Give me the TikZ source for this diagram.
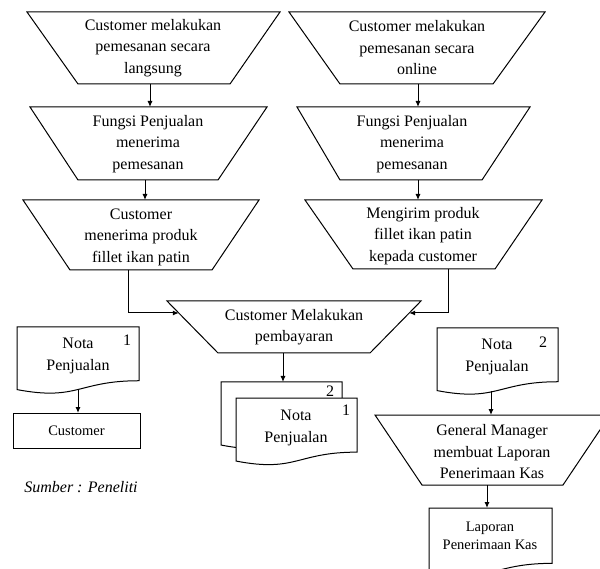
\documentclass[tikz,border=0pt]{standalone}
\usepackage{fontspec}
\setmainfont{Liberation Serif}
\usetikzlibrary{arrows.meta}
\newcommand\docpath[4]{% left, top, right, height
  (#1,#2) -- (#3,#2) -- (#3,{#2+0.802*#4})
  .. controls ({(#1+#3)/2},{#2+0.802*#4}) and ({(#1+#3)/2},{#2+1.107*#4}) ..
  (#1,{#2+0.934*#4}) -- cycle}
\begin{document}
\begin{tikzpicture}[x=1pt,y=-1pt,
  shp/.style={draw=black, line width=1pt, fill=white, line join=miter},
  lbl/.style={align=center, inner sep=0pt, font=\fontsize{16}{21.5}\selectfont},
  slbl/.style={align=center, inner sep=0pt, font=\fontsize{14.5}{18.5}\selectfont},
  num/.style={inner sep=0pt, font=\fontsize{16}{18}\selectfont},
  arr/.style={draw=black, line width=1pt, -{Latex[length=6pt,width=5pt]}},
  conn/.style={draw=black, line width=1pt}]
\useasboundingbox (0,0) rectangle (600,569);
\clip (0,0) rectangle (600,569);

% ---- left column trapezoids
\path[shp] (27,12) -- (280,12) -- (230,84) -- (78,84) -- cycle;
\node[lbl] (b1) at (153,48) {Customer melakukan\\pemesanan secara\\langsung};
\path[shp] (30,107) -- (267,107) -- (218,180) -- (78,180) -- cycle;
\node[lbl] (b2) at (148,144) {Fungsi Penjualan\\menerima\\pemesanan};
\path[shp] (23,200) -- (259,200) -- (212,270) -- (70,270) -- cycle;
\node[lbl] (b3) at (141,237) {Customer\\menerima produk\\fillet ikan patin};

% ---- right column trapezoids
\path[shp] (289,12) -- (545,12) -- (493,84) -- (340,84) -- cycle;
\node[lbl] (r1) at (417,48) {Customer melakukan\\pemesanan secara\\online};
\path[shp] (297,107) -- (530,107) -- (482,180) -- (340,180) -- cycle;
\node[lbl] (r2) at (412,144) {Fungsi Penjualan\\menerima\\pemesanan};
\path[shp] (305,200) -- (542,200) -- (495,269) -- (353,269) -- cycle;
\node[lbl] (r3) at (423,236) {Mengirim produk\\fillet ikan patin\\kepada customer};

% ---- payment
\path[shp] (167,301) -- (421,301) -- (370,353) -- (218,353) -- cycle;
\node[lbl] (pay) at (294,327) {Customer Melakukan\\pembayaran};

% ---- document stack (middle)
\path[shp] \docpath{221}{382}{342}{67.5};
\node[num] (n2m) at (330,391) {2};
\path[shp] \docpath{236}{398}{357}{67.5};
\node[num] (n1m) at (346,410) {1};
\node[lbl] (notam) at (296,428) {Nota\\Penjualan};

% ---- left document and customer
\path[shp] \docpath{17}{327}{139}{67};
\node[num] (n1l) at (127,340) {1};
\node[lbl] (notal) at (78,356) {Nota\\Penjualan};
\node[draw, line width=1pt, minimum width=127pt, minimum height=35pt, inner sep=0pt,
      font=\fontsize{14.5}{16}\selectfont] (cust) at (76.5,430.5) {Customer};
\node[lbl, font=\fontsize{16}{18}\selectfont\itshape] (src) at (81,487) {Sumber : Peneliti};

% ---- right document, GM, report
\path[shp] \docpath{437}{328}{558}{67};
\node[num] (n2r) at (543,342) {2};
\node[lbl] (notar) at (497,357) {Nota\\Penjualan};
\path[shp] (375,415) -- (610,415) -- (563,485) -- (422,485) -- cycle;
\node[lbl] (gm) at (492,452) {General Manager\\membuat Laporan\\Penerimaan Kas};
\path[shp] \docpath{429}{508}{552}{69};
\node[slbl] (lap) at (490,536) {Laporan\\Penerimaan Kas};

% ---- connector end points
\coordinate (b1s) at (150,84);  \coordinate (b2n) at (150,107);
\coordinate (b2s) at (145,180); \coordinate (b3n) at (145,200);
\coordinate (r1s) at (418,84);  \coordinate (r2n) at (418,107);
\coordinate (r2s) at (418,180); \coordinate (r3n) at (418,200);
\coordinate (b3s) at (128,270); \coordinate (payw) at (178.8,313);
\coordinate (r3s) at (448,269); \coordinate (paye) at (409.2,313);
\coordinate (pays) at (283,353); \coordinate (stackn) at (283,382);
\coordinate (notals) at (78,390); \coordinate (custn) at (78,413);
\coordinate (notars) at (491,391); \coordinate (gmn) at (491,415);
\coordinate (gms) at (487,485); \coordinate (lapn) at (487,508);

\draw[arr] (b1s) -- (b2n);
\draw[arr] (b2s) -- (b3n);
\draw[arr] (r1s) -- (r2n);
\draw[arr] (r2s) -- (r3n);
\draw[arr] (b3s) |- (payw);
\draw[arr] (r3s) |- (paye);
\draw[arr] (pays) -- (stackn);
\draw[arr] (notals) -- (custn);
\draw[arr] (notars) -- (gmn);
\draw[arr] (gms) -- (lapn);
\end{tikzpicture}
\end{document}
